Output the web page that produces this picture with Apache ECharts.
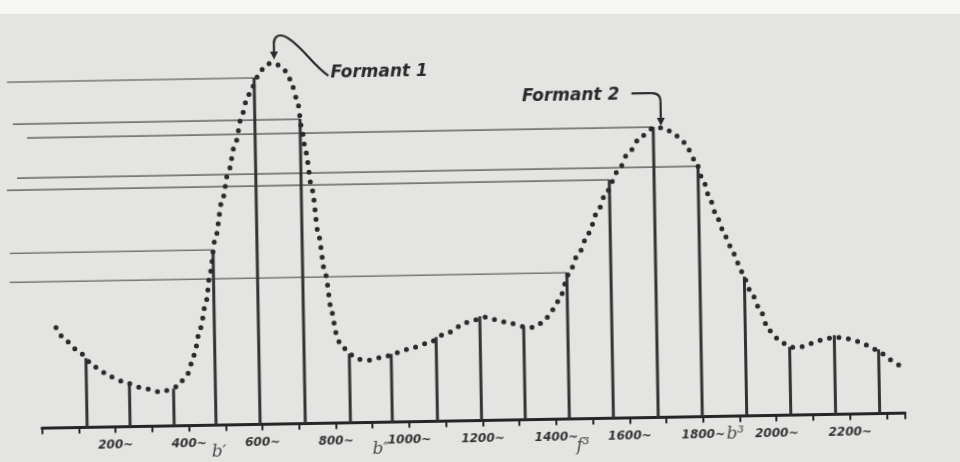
<!DOCTYPE html>
<html><head><meta charset="utf-8">
<script src="https://cdn.jsdelivr.net/npm/echarts@6/dist/echarts.min.js"></script>
<style>
html,body{margin:0;padding:0;background:#e4e4e2;overflow:hidden}
#c{width:960px;height:462px;transform:rotate(-1deg);transform-origin:480px 231px}
#band{position:absolute;left:0;top:0;width:960px;height:14px;background:#f7f7f6}
</style>
</head><body><div id="c"></div><div id="band"></div>
<script>
// Harmonics (Hz, as drawn) and their amplitudes (arbitrary units)
const harmonicFreq = [123,240,360,474,594,717,840,954,1077,1197,1316,1436,1556,1678,1798,1919,2039,2161,2281];
const harmonicAmp  = [69,43,37,175,346,304,69,68,84,104,93,146,238,290,250,139,68,79,64];

// Spectral envelope (dotted curve)
const envelopeFreq = [43,72,108,147,190,236,277,326,370,400,417,436,453,465,480,502,519,539,560,574,588,611,625,644,666,682,692,710,723,730,747,761,778,795,805,813,824,842,867,891,943,998,1053,1108,1160,1212,1264,1317,1342,1370,1387,1403,1418,1440,1469,1497,1522,1548,1579,1610,1645,1679,1706,1728,1762,1791,1812,1830,1848,1870,1891,1912,1935,1959,1982,1999,2020,2039,2060,2085,2109,2135,2159,2187,2214,2238,2259,2281,2303,2318,2335];
const envelopeAmp  = [100,86,74,60,50,43,38,34,39,52,70,97,124,152,185,225,252,280,310,326,337,352,359,361,358,352,344,324,291,273,233,190,150,110,90,81,75,68,63,62,66,72,78,88,98,103,98,93,92,97,104,113,123,144,165,185,206,226,246,265,281,289,289,285,274,256,235,216,198,179,162,144,125,107,86,78,72,68,67,69,73,75,77,76,74,70,67,62,57,52,48];

// Level guide lines: harmonic number (1-based) and where the line starts (Hz, left of origin)
const guideHarmonic = [5,6,14,15,13,4,12];
const guideStart    = [-79,-65,-27,-56,-84,-79,-81];

// Axis tick labels
const tickValues = [200,400,600,800,1000,1200,1400,1600,1800,2000,2200];
const tickLabels = ['200~','400~','600~','800~','1000~','1200~','1400~','1600~','1800~','2000~','2200~'];

// Formant annotations
const formantNames = ['Formant 1','Formant 2'];
const formantFreq  = [644,1691];
const formantAmp   = [361,290];

// Pitch notes pencilled under the axis
const noteNames = ["b\u2032","b\u2033","f\u00b3","b\u00b3"];
const noteFreq  = [481,922,1472,1887];

const ink = '#2a2a2a';

const option = {
  backgroundColor:'transparent',
  animation:false,
  grid:{left:38.6,right:58.2,top:20,bottom:41.6},
  xAxis:{
    type:'value', min:0, max:2350, interval:100,
    splitLine:{show:false},
    axisLine:{lineStyle:{color:'#262626', width:3}},
    axisTick:{length:6, lineStyle:{color:'#262626', width:2}},
    axisLabel:{
      margin:12, color:'#333', fontFamily:'DejaVu Sans', fontSize:12,
      fontStyle:'italic', fontWeight:'bold', hideOverlap:false,
      formatter:v=>{const i=tickValues.indexOf(v);return i<0?'':tickLabels[i];}
    }
  },
  yAxis:{type:'value', min:0, max:400, show:false},
  series:[
    {type:'custom', silent:true, clip:false, z:1,
     encode:{x:[0,1], y:2},
     data:guideHarmonic.map((h,i)=>[guideStart[i], harmonicFreq[h-1], harmonicAmp[h-1]]),
     renderItem:(params, api)=>{
       const s = api.coord([api.value(0), api.value(2)]);
       const e = api.coord([api.value(1), api.value(2)]);
       return {type:'line', shape:{x1:s[0], y1:s[1], x2:e[0], y2:e[1]}, style:{stroke:'#767674', lineWidth:1.6}};
     }},
    {type:'bar', silent:true, barWidth:3, z:2,
     itemStyle:{color:'#333333'},
     data:harmonicFreq.map((f,i)=>[f,harmonicAmp[i]])},
    {type:'line', silent:true, symbol:'none', smooth:0.3, smoothMonotone:'x', z:3,
     lineStyle:{color:ink, width:5, type:[0,9.6], cap:'round'},
     data:envelopeFreq.map((f,i)=>[f,envelopeAmp[i]])}
  ]
};

const chart = echarts.init(document.getElementById('c'));
chart.setOption(option);

const px = (f,a)=>chart.convertToPixel({gridIndex:0},[f,a]);
const p1 = px(formantFreq[0], formantAmp[0]);
const p2 = px(formantFreq[1], formantAmp[1]);
const baseY = px(0,0)[1];
const stroke = {stroke:ink, lineWidth:2.2, fill:null};

const graphics = [
  // Formant 1 arrow
  {type:'bezierCurve', z:10, shape:{x1:p1[0]+56,y1:p1[1]+14,cpx1:p1[0]+40,cpy1:p1[1]+3,cpx2:p1[0]+28,cpy2:p1[1]-19,x2:p1[0]+13,y2:p1[1]-26}, style:stroke},
  {type:'bezierCurve', z:10, shape:{x1:p1[0]+13,y1:p1[1]-26,cpx1:p1[0]+6,cpy1:p1[1]-29,cpx2:p1[0]+2,cpy2:p1[1]-25,x2:p1[0]+2,y2:p1[1]-19}, style:stroke},
  {type:'line', z:10, shape:{x1:p1[0]+2,y1:p1[1]-19,x2:p1[0]+2,y2:p1[1]-10}, style:stroke},
  {type:'polygon', z:10, shape:{points:[[p1[0]-2,p1[1]-11],[p1[0]+6,p1[1]-11],[p1[0]+2,p1[1]-3]]}, style:{fill:ink}},
  {type:'text', z:10, style:{text:formantNames[0], x:p1[0]+58, y:p1[1]+12, align:'left', verticalAlign:'middle',
    font:'italic bold 17px "DejaVu Sans"', fill:ink}},
  // Formant 2 arrow
  {type:'line', z:10, shape:{x1:p2[0]-26,y1:p2[1]-34,x2:p2[0]-6,y2:p2[1]-34}, style:stroke},
  {type:'bezierCurve', z:10, shape:{x1:p2[0]-6,y1:p2[1]-34,cpx1:p2[0]+3,cpy1:p2[1]-34,x2:p2[0]+3,y2:p2[1]-26}, style:stroke},
  {type:'line', z:10, shape:{x1:p2[0]+3,y1:p2[1]-26,x2:p2[0]+3,y2:p2[1]-8}, style:stroke},
  {type:'polygon', z:10, shape:{points:[[p2[0]-1,p2[1]-9],[p2[0]+7,p2[1]-9],[p2[0]+3,p2[1]-1]]}, style:{fill:ink}},
  {type:'text', z:10, style:{text:formantNames[1], x:p2[0]-38, y:p2[1]-33, align:'right', verticalAlign:'middle',
    font:'italic bold 17px "DejaVu Sans"', fill:ink}}
];
noteNames.forEach((n,i)=>{
  const p = px(noteFreq[i],0);
  graphics.push({type:'text', z:10, style:{text:n, x:p[0], y:baseY+(i===3?18:27), align:'center', verticalAlign:'middle',
    font:'italic 17px "DejaVu Serif"', fill:'#4a4a4a'}});
});
chart.setOption({graphic:graphics});
</script>
</body></html>
